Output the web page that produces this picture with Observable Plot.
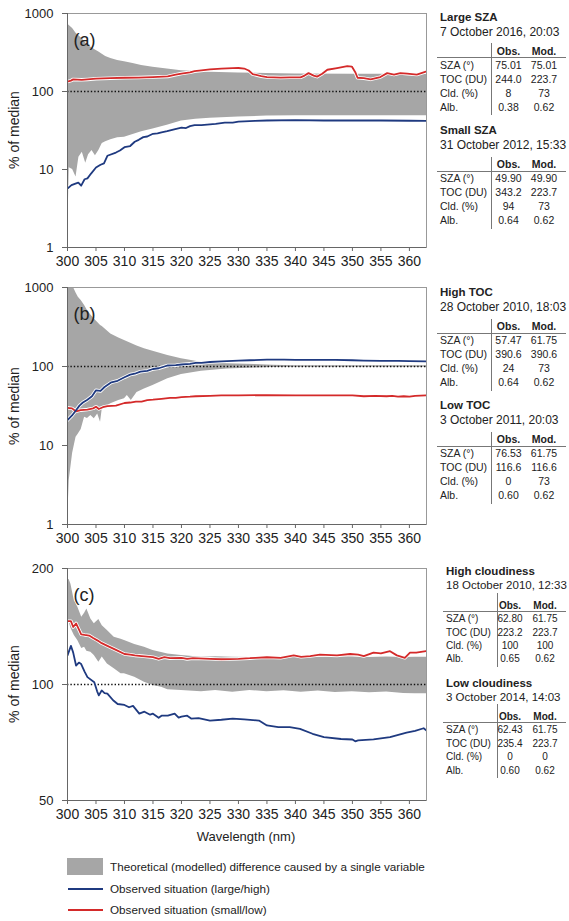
<!DOCTYPE html>
<html>
<head>
<meta charset="utf-8">
<script src="https://cdn.jsdelivr.net/npm/d3@7"></script>
<script src="https://cdn.jsdelivr.net/npm/@observablehq/plot@0.6"></script>
<style>
  body { margin: 0; background: #fff; }
  #root { position: relative; width: 569px; height: 921px; background: #fff;
          font-family: "Liberation Sans", Arial, sans-serif; color: #222; overflow: hidden; }
  #root svg { position: absolute; left: 0; }
  .t { position: absolute; white-space: nowrap; }
</style>
</head>
<body>
<div id="root"></div>
<script>
// ---------------- DATA ----------------
const wavelengthTicks = [300, 305, 310, 315, 320, 325, 330, 335, 340, 345, 350, 355, 360];
const logTicksAB = [1, 10, 100, 1000];
const logTicksC = [50, 100, 200];
const panelLabels = ["(a)", "(b)", "(c)"];

// [wavelength, lower, upper] of the modelled range (% of median)
const aBand = [[300,1.05,740],[300.3,10.5,700],[300.9,10,640],[301.5,8,560],[302,14.4,520],[302.6,16.7,470],[303.2,12,420],[303.7,15.5,390],[304.3,17.5,360],[304.9,15,340],[305.5,17.5,320],[306.1,21.5,300],[306.7,22.7,280],[307.6,24,265],[308.8,25.5,250],[310,26,240],[311.5,28,228],[313,30.5,215],[315,33,205],[317.5,37,194],[320,42,185],[322.5,44,180],[325,45.5,177],[330,47,173],[335,48.5,170],[340,49,168],[350,49,166],[363,49,166]];
const aBlue = [[300,5.7],[300.7,6.3],[301.4,6.6],[301.9,6.8],[302.4,6.2],[303,7.5],[303.5,7.7],[304.1,8.8],[305,10.6],[305.8,11.5],[306.4,12],[307,15],[308.5,16.5],[309.2,17.5],[310,19.3],[311,20],[311.8,22.7],[312.5,24],[313.3,26],[314,26.5],[315,28.7],[315.8,29],[316.5,30],[317.5,31],[318.9,33],[320,34.5],[320.8,34],[321.5,36],[322.3,37],[323.5,37],[325,38],[326,38.5],[327.6,40],[329,40],[330,41],[331,41.5],[332.9,42],[335,42.5],[340,43],[345,42.5],[350,42.5],[355,42.5],[360,42.2],[363,42]];
const aRed = [[300,134],[300.6,138],[301,143],[302.5,141],[303.5,143],[305,146],[307.5,148],[310,150],[312.5,151],[315,153],[317.6,156],[319,164],[320,170],[321.5,176],[322.3,182],[323.5,186],[325,192],[327,197],[329,199],[330,200],[331,197],[331.8,186],[332.5,167],[334,157],[335,153],[337.4,151],[339,152],[340.9,152],[341.6,160],[342.3,172],[343.2,160],[343.8,155],[344.7,169],[345.6,190],[347.3,200],[349.1,211],[349.9,209],[350.5,177],[350.9,150],[352,148],[353.2,143],[354.9,153],[356.1,172],[357.3,165],[358.4,172],[359.6,169],[361.3,165],[362.9,180]];

const bBand = [[300,1,3000],[300.3,3.6,2000],[300.9,8,1060],[301.5,12.7,850],[301.9,14,750],[302.4,16,685],[303,22.8,590],[303.5,22,510],[304.1,24,450],[304.7,21.8,400],[305.3,25,360],[305.8,19.7,330],[306.1,29,320],[307.6,33.7,258],[309,37,230],[310,39,214],[310.5,43,205],[311.2,37,195],[312.2,47,182],[313.5,52,168],[315,57.6,156],[317.6,70,138],[320,79,125],[323.5,87,113],[328,93,108],[332.9,96,106],[336,97,104],[340,98,102.5],[363,98,102.5]];
const bBlue = [[300,21],[300.8,24],[301.5,28],[302.1,32],[302.7,35],[303.5,38],[304.3,42],[305,50],[305.8,49],[306.5,55],[307.7,63],[308.8,66],[310,73],[311,79],[311.8,81],[312.8,86],[314,88],[315,93],[316,95],[317,100],[317.6,103],[319,104],[320,106],[321.5,108],[322.5,111],[323.5,111],[325,114],[327,116],[330,119],[332,120],[335,122],[338,122],[340,121],[344,121],[347,121],[350,120],[352,119],[355,118],[358,118],[360,117],[363,116]];
const bRed = [[300,30],[300.8,29.5],[301.5,27],[302.3,28],[303.5,28.5],[304.5,29.5],[305,31],[305.5,29],[306.2,30.5],[307,31.5],[308.5,32],[310,34.5],[311,35],[312,36],[313,36],[314,37.5],[315,38],[316.5,39],[318,40],[319,40],[320,41],[321.5,41.5],[322.5,42],[325,42.5],[327,43],[330,43],[335,43.5],[340,43],[345,43],[350,43],[352,42],[354,42.5],[356,42],[357,42.5],[358,41.5],[359,42],[360,41.5],[361,42.5],[363,43]];

const cBand = [[300,145,188],[300.3,145,187],[300.6,140,182],[301.2,134,165],[301.8,130,159],[302.5,124,149.5],[303,124.9,153],[303.4,122,157],[304.1,121.3,148],[304.7,119,143.7],[305.5,114.3,147.5],[306.1,117.8,142],[307,113,138],[308.2,109.8,132.7],[309.4,106.6,131],[310,106.6,130],[311.8,104.5,127],[313.5,101.4,125],[315,99.4,122.5],[316.5,98.4,121],[317.6,96.9,120],[320,96.5,119],[323.5,95.8,117.7],[326,96.5,118],[329,95.5,117.7],[332,96.5,117.5],[335,95.8,117.3],[338,96.3,118],[341,95.5,117.7],[344,96.2,117.7],[347,95.3,118],[350,95.8,117.8],[353,95.2,117.5],[356,95.6,117.8],[359,94.8,117.5],[361,94.6,117.7],[363,94.6,117.7]];
const cBlue = [[300,119],[300.6,126],[301,121],[301.5,112],[302,114],[302.4,113],[303,108],[303.5,104.5],[304.7,101.4],[305.2,96],[305.5,93.7],[306,96.5],[306.5,95],[307,94.7],[308,91],[308.8,89],[310,88.5],[310.8,87.3],[311.5,88],[312.6,84],[313.5,85],[314.5,83.5],[315,84],[316,82],[316.5,83],[317.6,83],[318.8,84],[319.5,82],[320,82.5],[321,83],[321.7,81.6],[323,81.8],[325,80.6],[327,81],[329,81.6],[331,81.2],[333.6,80.6],[335,78.3],[337,77.5],[339,77.5],[340.8,76.7],[343,74.5],[345,73],[348,72.2],[350,72],[350.5,71.2],[351,71.6],[353.7,72],[356.6,73],[359.5,75],[361,75.8],[362.5,77],[363,76]];
const cRed = [[300,146],[300.6,146],[301,141],[301.5,144],[302,139],[302.4,135],[303,134.5],[303.8,134],[304.5,132],[305.3,130],[306,128],[307,126],[308.5,123],[310,120],[311,119.5],[311.8,119],[313,118.5],[315,117.7],[316,116.5],[317,117.7],[318,117],[320,117.3],[321,116.5],[322,117],[325,116.6],[327,116.3],[330,116.6],[332,117],[333,117.3],[335,117.7],[337.4,117.3],[339.7,119],[341,118],[342.6,118.5],[344.3,119.5],[347.3,119],[349.6,120],[351,119.5],[352,118.5],[353.7,121],[355,120.5],[356.6,122],[357.8,119],[359.2,117.3],[360.1,121],[361.2,121],[362.9,122]];

// tables
const tableTitles = ["Large SZA", "Small SZA", "High TOC", "Low TOC", "High cloudiness", "Low cloudiness"];
const tableDates = ["7 October 2016, 20:03", "31 October 2012, 15:33", "28 October 2010, 18:03", "3 October 2011, 20:03", "18 October 2010, 12:33", "3 October 2014, 14:03"];
const columnHeads = ["Obs.", "Mod."];
const rowLabels = ["SZA (°)", "TOC (DU)", "Cld. (%)", "Alb."];
const obsValues = [["75.01","244.0","8","0.38"],["49.90","343.2","94","0.64"],["57.47","390.6","24","0.64"],["76.53","116.6","0","0.60"],["62.80","223.2","100","0.65"],["62.43","235.4","0","0.60"]];
const modValues = [["75.01","223.7","73","0.62"],["49.90","223.7","73","0.62"],["61.75","390.6","73","0.62"],["61.75","116.6","73","0.62"],["61.75","223.7","100","0.62"],["61.75","223.7","0","0.62"]];

const legendLabels = ["Theoretical (modelled) difference caused by a single variable", "Observed situation (large/high)", "Observed situation (small/low)"];
const yAxisTitle = "% of median";
const xAxisTitle = "Wavelength (nm)";

// ---------------- STYLE ----------------
const GRAY = "#a6a6a6", BLUE = "#1f3a80", RED = "#d42a2a";
const root = document.getElementById("root");

function panel(band, blue, red, yDomain, yTicks, label, frameTop, frameH) {
  const mt = 10, mb = 30;
  const p = Plot.plot({
    width: 440, height: mt + frameH + mb,
    marginLeft: 67, marginRight: 14, marginTop: mt, marginBottom: mb,
    style: { fontFamily: "Liberation Sans, Arial, sans-serif", background: "transparent", color: "#222", overflow: "visible" },
    x: { domain: [300, 363] },
    y: { type: "log", domain: yDomain },
    marks: [
      Plot.areaY(band, { x: d => d[0], y1: d => d[1], y2: d => d[2], fill: GRAY, clip: true }),
      Plot.ruleY([100], { stroke: "#111", strokeWidth: 1.4, strokeDasharray: "1.4,2" }),
      Plot.line(blue, { x: d => d[0], y: d => d[1], stroke: "white", strokeWidth: 3.5, clip: true }),
      Plot.line(red, { x: d => d[0], y: d => d[1], stroke: "white", strokeWidth: 3.5, clip: true }),
      Plot.line(red, { x: d => d[0], y: d => d[1], stroke: RED, strokeWidth: 1.8, clip: true }),
      Plot.line(blue, { x: d => d[0], y: d => d[1], stroke: BLUE, strokeWidth: 1.8, clip: true }),
      Plot.frame({ stroke: "#999" }),
      Plot.ruleX([300], { stroke: "#666" }),
      Plot.ruleY([yDomain[0]], { stroke: "#666" }),
      Plot.axisX({ ticks: wavelengthTicks, tickSize: 4, tickPadding: 5, fontSize: 14, label: null, stroke: "#666" }),
      Plot.axisY({ ticks: yTicks, tickFormat: d => String(d), tickSize: 5, tickPadding: 9, fontSize: 13, label: null, stroke: "#666" }),
      Plot.text([label], { text: d => d, frameAnchor: "top-left", dx: 6, dy: 20, fontSize: 18, textAnchor: "start", fill: "#222" })
    ]
  });
  p.style.top = (frameTop - mt) + "px";
  root.appendChild(p);
  addText(yAxisTitle, 14, frameTop + frameH / 2, { size: 14, rotate: true });
}

function addText(str, x, yc, o = {}) {
  const size = o.size || 12;
  const d = document.createElement("div");
  d.className = "t";
  d.textContent = str;
  d.style.fontSize = size + "px";
  d.style.lineHeight = size + "px";
  d.style.fontWeight = o.bold ? "bold" : "normal";
  if (o.rotate) {
    d.style.left = x + "px"; d.style.top = yc + "px";
    d.style.transform = "translate(-50%,-50%) rotate(-90deg)";
  } else {
    d.style.top = (yc - size / 2) + "px";
    d.style.left = x + "px";
    if (o.anchor === "middle") d.style.transform = "translateX(-50%)";
  }
  root.appendChild(d);
}
function addBox(x, y, w, h, bg) {
  const d = document.createElement("div");
  d.style.cssText = `position:absolute;left:${x}px;top:${y}px;width:${w}px;height:${h}px;background:${bg}`;
  root.appendChild(d);
}

panel(aBand, aBlue, aRed, [1, 1000], logTicksAB, panelLabels[0], 13, 234);
panel(bBand, bBlue, bRed, [1, 1000], logTicksAB, panelLabels[1], 287, 237);
panel(cBand, cBlue, cRed, [50, 200], logTicksC, panelLabels[2], 568, 232);
addText(xAxisTitle, 246, 836, { size: 13, anchor: "middle" });

// tables
const blockTops = [17.3, 130.7, 292.7, 406, 572, 683.3];
tableTitles.forEach((title, i) => {
  const y0 = blockTops[i];
  const small = i >= 4;
  const lx = small ? 446 : 440;
  const vx = small ? 496.5 : 491;
  const ox = small ? 510 : 508.5;
  const mx = small ? 545 : 544;
  const rs = small ? 10 : 10.5;
  const rowOff = small ? [47, 60.5, 74, 87.3] : [47.7, 61.7, 75.7, 89.7];
  addText(title, lx, y0, { size: 11.5, bold: true });
  addText(tableDates[i], lx, y0 + 14.2, { size: small ? 11.5 : 12 });
  addText(columnHeads[0], ox, y0 + 33.5, { size: rs, bold: true, anchor: "middle" });
  addText(columnHeads[1], mx, y0 + 33.5, { size: rs, bold: true, anchor: "middle" });
  addBox(small ? 443 : 437, y0 + (small ? 38.7 : 40), 566 - (small ? 443 : 437), 1, "#777");
  addBox(vx, y0 + (small ? 21 : 26), 1, small ? 74 : 72, "#777");
  rowLabels.forEach((r, k) => {
    addText(r, lx, y0 + rowOff[k], { size: rs });
    addText(obsValues[i][k], ox, y0 + rowOff[k], { size: rs, anchor: "middle" });
    addText(modValues[i][k], mx, y0 + rowOff[k], { size: rs, anchor: "middle" });
  });
});

// legend
addBox(67, 858, 36, 17, GRAY);
addBox(68, 888, 35, 2, BLUE);
addBox(68, 909, 35, 2, RED);
addText(legendLabels[0], 110, 866.7, { size: 11.7 });
addText(legendLabels[1], 110, 889, { size: 11.7 });
addText(legendLabels[2], 110, 910, { size: 11.7 });
</script>
</body>
</html>
